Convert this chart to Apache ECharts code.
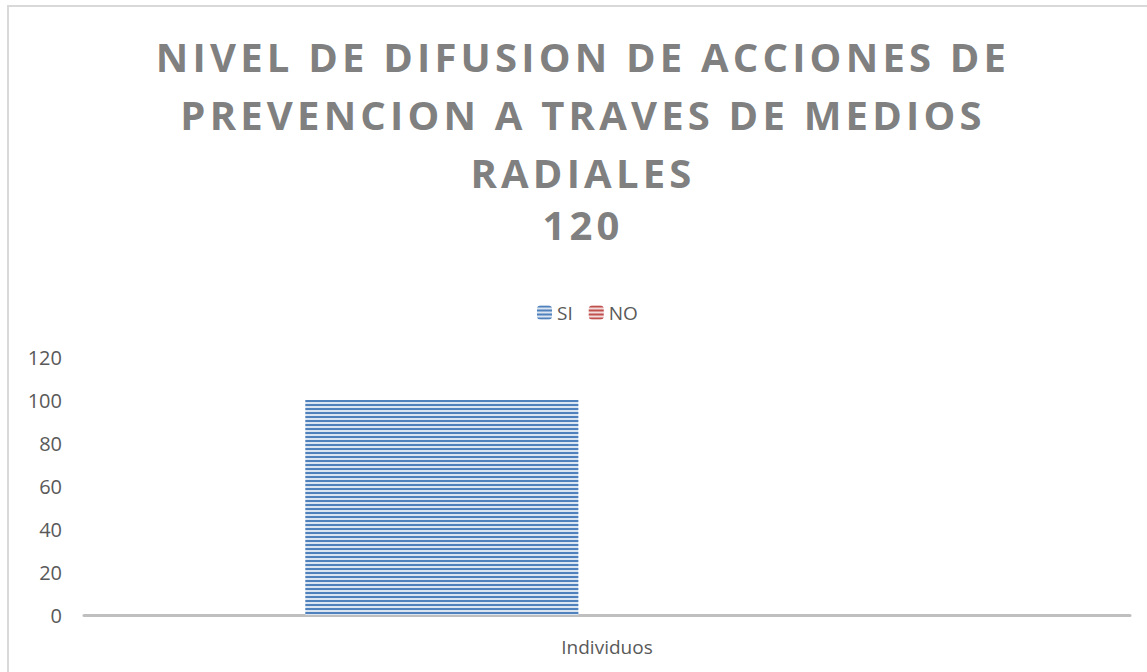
<!DOCTYPE html>
<html>
<head>
<meta charset="utf-8">
<script src="https://cdn.jsdelivr.net/npm/echarts@6/dist/echarts.min.js"></script>
<style>
  html, body { margin: 0; padding: 0; background: #fff; }
  #main { width: 1147px; height: 672px; }
  /* espaciado de letras del titulo (estilo Excel) */
  #main text[style*="40px"] { letter-spacing: 4.2px; }
</style>
</head>
<body>
<div id="main"></div>
<script>
// datos del grafico
var categorias = ["Individuos"];
var valoresSi = [100];
var valoresNo = [0];
var nombresSeries = ["SI", "NO"];
var ejeYMin = 0;
var ejeYMax = 120;
var ejeYPaso = 20;

var myChart = echarts.init(document.getElementById("main"), null, { renderer: "svg" });

var option = {
  backgroundColor: "#fff",
  animation: false,
  title: {
    text: "NIVEL DE DIFUSION DE ACCIONES DE\nPREVENCION A TRAVES DE MEDIOS\nRADIALES",
    subtext: "120",
    left: 583,
    textAlign: "center",
    top: 27,
    padding: 0,
    itemGap: 0,
    textStyle: {
      fontFamily: "Open Sans",
      fontWeight: "bold",
      fontSize: 40,
      lineHeight: 58,
      color: "#808080",
    },
    subtextStyle: {
      fontFamily: "Open Sans",
      fontWeight: "bold",
      fontSize: 40,
      lineHeight: 46,
      color: "#808080",
    },
  },
  legend: {
    data: nombresSeries,
    left: 537,
    top: 303,
    padding: 0,
    itemWidth: 15,
    itemHeight: 14,
    itemGap: 16,
    textStyle: { fontFamily: "Open Sans", fontSize: 19, color: "#595959" },
  },
  grid: { left: 84, right: 17, top: 357, bottom: 57 },
  xAxis: {
    type: "category",
    data: categorias,
    axisLine: { lineStyle: { color: "#bfbfbf", width: 3 } },
    axisTick: { show: false },
    axisLabel: { fontFamily: "Open Sans", fontSize: 19, color: "#595959", margin: 22 },
  },
  yAxis: {
    type: "value",
    min: ejeYMin,
    max: ejeYMax,
    interval: ejeYPaso,
    axisLine: { show: false },
    axisTick: { show: false },
    splitLine: { show: false },
    axisLabel: { fontFamily: "Open Sans", fontSize: 20, color: "#595959", margin: 22 },
  },
  series: [
    {
      name: nombresSeries[0],
      type: "bar",
      data: valoresSi,
      barWidth: "26.1%",
      barGap: "21%",
      itemStyle: {
        color: "#dbe4f1",
        decal: {
          symbol: "rect",
          symbolSize: 1,
          dashArrayX: [1, 0],
          dashArrayY: [2, 2],
          rotation: 0,
          color: "#4f81bd",
        },
      },
    },
    {
      name: nombresSeries[1],
      type: "bar",
      data: valoresNo,
      barWidth: "26.1%",
      itemStyle: {
        color: "#f2dcdb",
        decal: {
          symbol: "rect",
          symbolSize: 1,
          dashArrayX: [1, 0],
          dashArrayY: [2, 2],
          rotation: 0,
          color: "#c0504d",
        },
      },
    },
  ],
  graphic: [
    {
      type: "rect",
      shape: { x: 8, y: 6, width: 2000, height: 2000 },
      style: { fill: "none", stroke: "#d9d9d9", lineWidth: 2 },
      silent: true,
    },
  ],
};

myChart.setOption(option);
</script>
</body>
</html>
